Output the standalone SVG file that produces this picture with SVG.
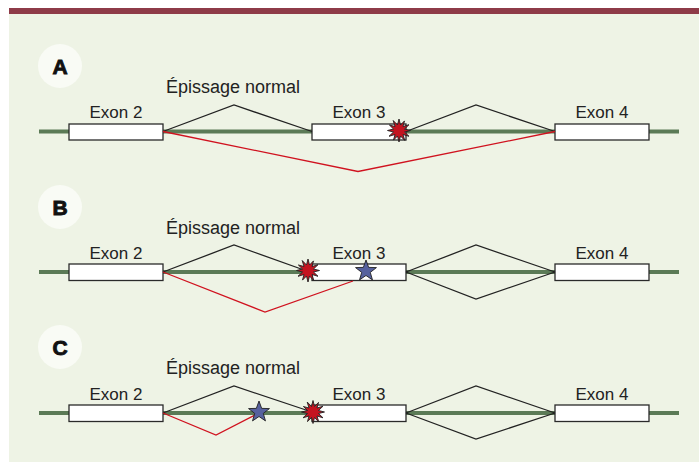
<svg xmlns="http://www.w3.org/2000/svg" width="699" height="462" viewBox="0 0 699 462">
<defs>
<style>
.bg{fill:#eef3e5}
.bar{fill:#8e3b48}
.intron{stroke:#5b7a56;stroke-width:4;fill:none}
.exon{fill:#ffffff;stroke:#2a2a2a;stroke-width:1.3}
.lbl{font-family:"Liberation Sans",Arial,sans-serif;font-size:17px;fill:#222;text-anchor:middle}
.ep{font-family:"Liberation Sans",Arial,sans-serif;font-size:18px;fill:#222;text-anchor:middle}
.norm{stroke:#222;stroke-width:1.3;fill:none}
.alt{stroke:#d0121f;stroke-width:1.3;fill:none}
.circ{fill:#f9fbf5}
.pl{font-family:"Liberation Sans",Arial,sans-serif;font-size:21px;font-weight:bold;fill:#111;stroke:#111;stroke-width:0.9;text-anchor:middle}
.burst{fill:#c41420;stroke:#222;stroke-width:0.9}
.star{fill:#56619e;stroke:#222;stroke-width:0.9}
</style>
<polygon id="burstShape" class="burst" points="11.5,0 5.5,1.5 10,5.8 4,4 5.8,10 1.5,5.5 0,11.5 -1.5,5.5 -5.5,9.6 -4,4 -10,5.8 -5.5,1.5 -11.5,0 -5.5,-1.5 -9.6,-5.5 -4,-4 -5.8,-10 -1.5,-5.5 0,-11.5 1.5,-5.5 5.5,-9.6 4,-4 10,-5.8 5.5,-1.5"/>
<polygon id="starShape" class="star" points="0,-11 2.65,-3.64 10.46,-3.4 4.28,1.39 6.47,8.9 0,4.5 -6.47,8.9 -4.28,1.39 -10.46,-3.4 -2.65,-3.64"/>
</defs>
<rect x="0" y="0" width="699" height="462" fill="#ffffff"/>
<rect class="bg" x="9" y="14" width="690" height="448"/>
<rect class="bar" x="9" y="8" width="690" height="6"/>

<!-- Panel A -->
<g id="panelA">
<g id="labelA"><circle class="circ" cx="60" cy="66" r="22"/><text class="pl" x="60" y="73.5">A</text></g>
<line class="intron" x1="39" y1="131.5" x2="679" y2="131.5"/>
<text class="ep" x="233" y="93">Épissage normal</text>
<g id="A-exon2"><rect class="exon" x="69" y="124" width="94" height="16"/><text class="lbl" x="116" y="118">Exon 2</text></g>
<g id="A-exon3"><rect class="exon" x="312" y="124" width="94" height="16"/><text class="lbl" x="359" y="118">Exon 3</text></g>
<g id="A-exon4"><rect class="exon" x="555" y="124" width="94" height="16"/><text class="lbl" x="602" y="118">Exon 4</text></g>
<g id="A-connectors">
<polyline class="norm" points="163,131.5 234,105 312,131.5"/>
<polyline class="norm" points="406,131.5 476,105 555,131.5"/>
<polyline class="alt" points="163,131.5 358,171.5 555,131.5"/>
</g>
<use href="#burstShape" x="399" y="130.5"/>
</g>

<!-- Panel B -->
<g id="panelB">
<g id="labelB"><circle class="circ" cx="60" cy="207" r="22"/><text class="pl" x="60" y="214.5">B</text></g>
<line class="intron" x1="39" y1="272" x2="679" y2="272"/>
<text class="ep" x="233" y="234">Épissage normal</text>
<g id="B-exon2"><rect class="exon" x="69" y="264" width="94" height="16.5"/><text class="lbl" x="116" y="259">Exon 2</text></g>
<g id="B-exon3"><rect class="exon" x="312" y="264" width="94" height="16.5"/><text class="lbl" x="359" y="259">Exon 3</text></g>
<g id="B-exon4"><rect class="exon" x="555" y="264" width="94" height="16.5"/><text class="lbl" x="602" y="259">Exon 4</text></g>
<g id="B-connectors">
<polyline class="norm" points="163,272 234,245 304,270"/>
<polyline class="norm" points="406,272 476,245 555,272"/>
<polyline class="norm" points="406,272 476,299 555,272"/>
<polyline class="alt" points="163,272 265,312 353,281"/>
</g>
<use href="#burstShape" x="308" y="270.5"/>
<use href="#starShape" x="366" y="271"/>
</g>

<!-- Panel C -->
<g id="panelC">
<g id="labelC"><circle class="circ" cx="60" cy="347" r="22"/><text class="pl" x="60" y="354.5">C</text></g>
<line class="intron" x1="39" y1="413" x2="679" y2="413"/>
<text class="ep" x="233" y="374">Épissage normal</text>
<g id="C-exon2"><rect class="exon" x="69" y="405" width="94" height="16.5"/><text class="lbl" x="116" y="400">Exon 2</text></g>
<g id="C-exon3"><rect class="exon" x="312" y="405" width="94" height="16.5"/><text class="lbl" x="359" y="400">Exon 3</text></g>
<g id="C-exon4"><rect class="exon" x="555" y="405" width="94" height="16.5"/><text class="lbl" x="602" y="400">Exon 4</text></g>
<g id="C-connectors">
<polyline class="norm" points="163,413 234,386 309,411"/>
<polyline class="norm" points="406,413 476,386 555,413"/>
<polyline class="norm" points="406,413 476,439 555,413"/>
<polyline class="alt" points="163,413 216,435 257,414"/>
</g>
<use href="#starShape" x="259" y="412"/>
<use href="#burstShape" x="313" y="412"/>
</g>
</svg>
